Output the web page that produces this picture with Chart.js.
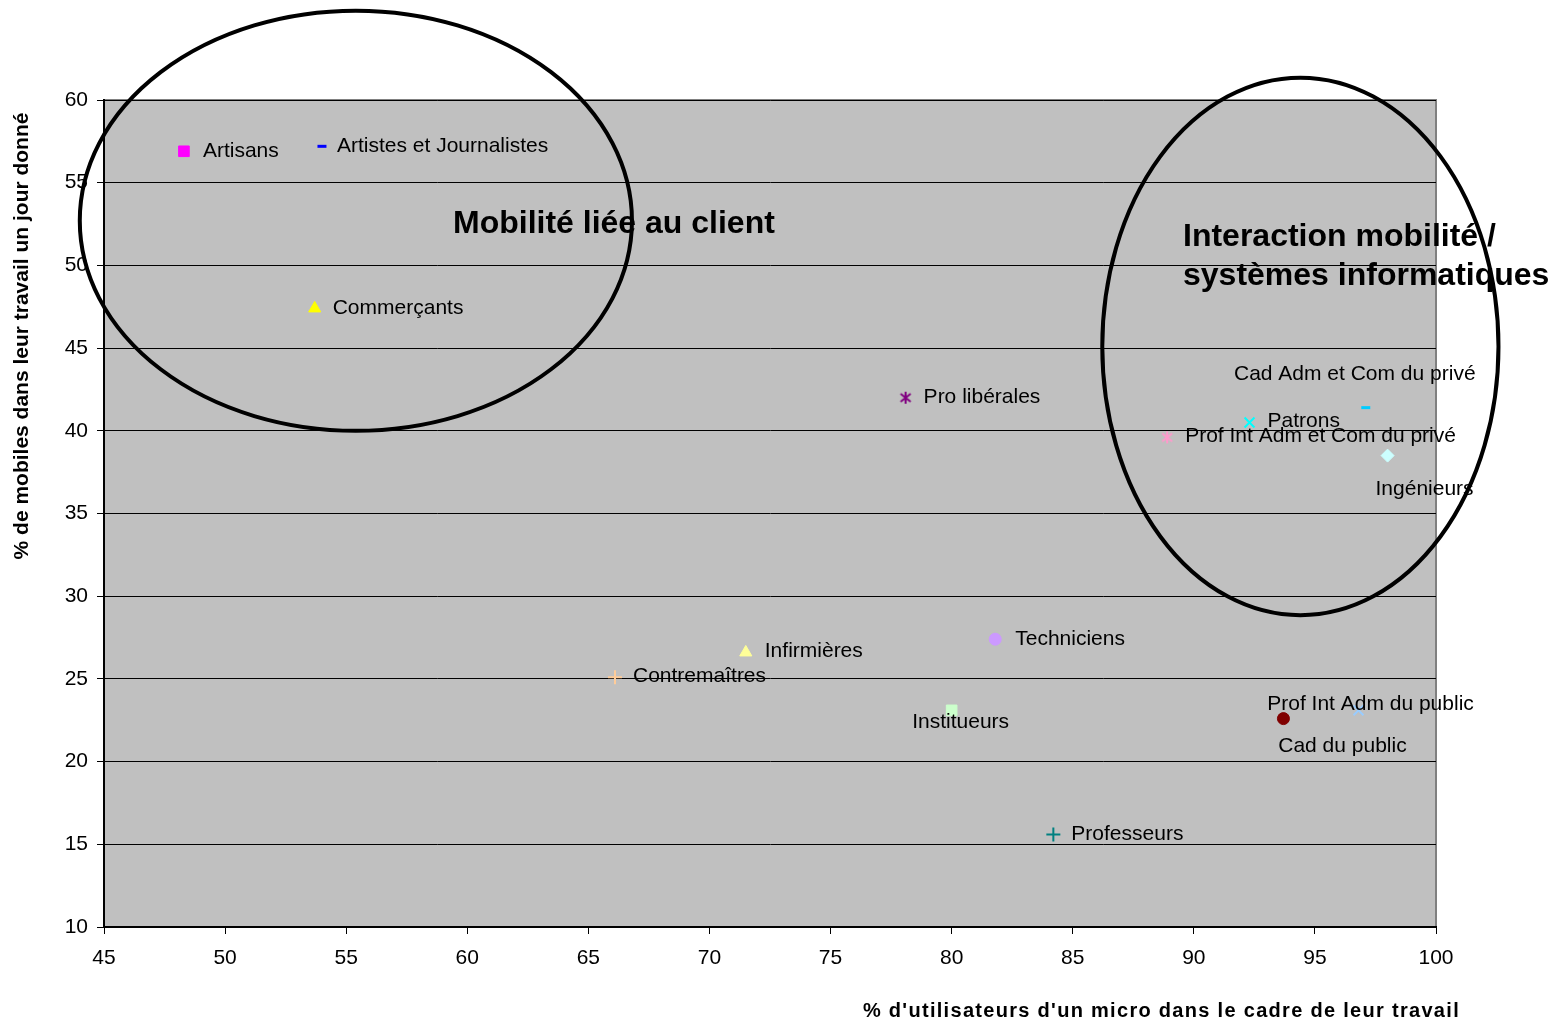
<!DOCTYPE html>
<html>
<head>
<meta charset="utf-8">
<script src="https://cdn.jsdelivr.net/npm/chart.js@4.4.1/dist/chart.umd.min.js"></script>
<style>
    html, body { margin: 0; padding: 0; background: #fff; }
    #wrap { width: 1557px; height: 1023px; }
</style>
</head>
<body>
<div id="wrap"><canvas id="mobChart"></canvas></div>
<script>
// Data
const categories = ['Artisans', 'Artistes et Journalistes', 'Commerçants', 'Pro libérales', 'Patrons',
    'Cad Adm et Com du privé', 'Prof Int Adm et Com du privé', 'Ingénieurs', 'Techniciens', 'Infirmières',
    'Contremaîtres', 'Institueurs', 'Cad du public', 'Prof Int Adm du public', 'Professeurs'];
const microUse = [48.3, 54.0, 53.7, 78.1, 92.3, 97.1, 88.9, 98.0, 81.8, 71.5, 66.1, 80.0, 93.7, 96.8, 84.2];
const mobility = [56.9, 57.2, 47.4, 42.0, 40.5, 41.4, 39.6, 38.5, 27.4, 26.6, 25.1, 23.1, 22.6, 23.1, 15.6];

// Marker look per series (Excel default scatter palette)
const markerColors = ['#ff00ff', '#0000ff', '#ffff00', '#800080', '#00ffff', '#00ccff', '#ff99cc', '#ccffff',
    '#cc99ff', '#ffff99', '#ffcc99', '#ccffcc', '#800000', '#99ccff', '#008080'];
const markerStyles = ['rect', 'line', 'triangle', 'asterisk', 'crossRot', 'line', 'asterisk', 'rectRot',
    'circle', 'triangle', 'cross', 'rect', 'circle', 'crossRot', 'cross'];

// Where each data label sits relative to its marker (px) and how it is anchored
const labelOffsets = [[19, 0], [15, 0], [18, 0], [18, -1], [18, -1], [-11, -33], [18, -1], [37, 34],
    [20, 0], [19, -1], [18, -1], [9, 12], [59, 28], [12, -6], [18, 0]];
const labelAlign = ['left', 'left', 'left', 'left', 'left', 'center', 'left', 'center',
    'left', 'left', 'left', 'center', 'center', 'center', 'left'];

const FONT = 'Liberation Sans, Arial, sans-serif';

// six-armed asterisk like the Excel marker
function asteriskMarker(color) {
    const c = document.createElement('canvas');
    c.width = 14; c.height = 14;
    const g = c.getContext('2d');
    g.strokeStyle = color;
    g.lineWidth = 2;
    g.beginPath();
    g.moveTo(7, 1); g.lineTo(7, 13);
    g.moveTo(2, 3); g.lineTo(12, 11);
    g.moveTo(12, 3); g.lineTo(2, 11);
    g.stroke();
    return c;
}

const datasets = categories.map((name, i) => {
    const style = markerStyles[i];
    const thin = style === 'line' || style.startsWith('cross');
    let radius = 6;
    if (style === 'rect') radius = 7.5;
    if (style === 'triangle') radius = 7;
    if (style === 'line') radius = 4.5;
    if (style === 'rectRot') radius = 6.5;
    if (style === 'cross' || style === 'crossRot') radius = 7;
    return {
        label: name,
        data: [{ x: microUse[i], y: mobility[i] }],
        pointStyle: style === 'asterisk' ? asteriskMarker(markerColors[i]) : style,
        backgroundColor: markerColors[i],
        borderColor: markerColors[i],
        borderWidth: style === 'line' ? 3 : (thin ? 2 : 1),
        pointRadius: radius
    };
});

const plotFrame = {
    id: 'plotFrame',
    beforeDraw(chart) {
        const { ctx, chartArea: a } = chart;
        ctx.save();
        ctx.fillStyle = '#c0c0c0';
        ctx.fillRect(a.left, a.top, a.right - a.left, a.bottom - a.top);
        ctx.strokeStyle = '#808080';
        ctx.lineWidth = 2;
        ctx.beginPath();
        ctx.moveTo(a.left, a.top);
        ctx.lineTo(a.right, a.top);
        ctx.lineTo(a.right, a.bottom);
        ctx.stroke();
        ctx.restore();
    }
};

const overlays = {
    id: 'overlays',
    afterDraw(chart) {
        const { ctx } = chart;
        const xs = chart.scales.x, ys = chart.scales.y;
        ctx.save();

        // point labels
        ctx.fillStyle = '#000';
        ctx.font = '21px ' + FONT;
        ctx.textBaseline = 'middle';
        categories.forEach((name, i) => {
            const px = xs.getPixelForValue(microUse[i]);
            const py = ys.getPixelForValue(mobility[i]);
            ctx.textAlign = labelAlign[i];
            ctx.fillText(name, px + labelOffsets[i][0], py + labelOffsets[i][1]);
        });

        // group ellipses (data coords: centre x, centre y, half width, half height)
        const groups = [[55.4, 52.7, 11.4, 12.7], [94.4, 45.1, 8.18, 16.25]];
        ctx.strokeStyle = '#000';
        ctx.lineWidth = 4;
        groups.forEach(g => {
            const cx = xs.getPixelForValue(g[0]);
            const cy = ys.getPixelForValue(g[1]);
            const rx = Math.abs(xs.getPixelForValue(g[0] + g[2]) - cx);
            const ry = Math.abs(ys.getPixelForValue(g[1] + g[3]) - cy);
            ctx.beginPath();
            ctx.ellipse(cx, cy, rx, ry, 0, 0, Math.PI * 2);
            ctx.stroke();
        });

        // group titles
        ctx.font = 'bold 32px ' + FONT;
        ctx.textAlign = 'left';
        ctx.fillText('Mobilité liée au client', 453, 224);
        ctx.fillText('Interaction mobilité /', 1183, 237);
        ctx.fillText('systèmes informatiques', 1183, 276);

        // x axis title, right aligned past the plot edge as in the original
        ctx.font = 'bold 20px ' + FONT;
        ctx.textAlign = 'right';
        ctx.letterSpacing = '1.3px';
        ctx.fillText("% d'utilisateurs d'un micro dans le cadre de leur travail", 1460, 1011);
        ctx.letterSpacing = '0px';

        // y axis title
        ctx.translate(22, 336);
        ctx.rotate(-Math.PI / 2);
        ctx.textAlign = 'center';
        ctx.font = 'bold 21px ' + FONT;
        ctx.fillText('% de mobiles dans leur travail un jour donné', 0, 0);
        ctx.restore();
    }
};

new Chart(document.getElementById('mobChart'), {
    type: 'scatter',
    data: { datasets },
    options: {
        responsive: true,
        maintainAspectRatio: false,
        animation: false,
        layout: { padding: { top: 100, right: 121, left: 0, bottom: 0 } },
        plugins: {
            legend: { display: false },
            tooltip: { enabled: false }
        },
        scales: {
            x: {
                type: 'linear',
                min: 45,
                max: 100,
                afterFit: s => { s.height = 96; },
                ticks: { stepSize: 5, color: '#000', font: { size: 21, family: FONT }, padding: 12 },
                grid: { drawOnChartArea: false, color: '#000', tickLength: 7 },
                border: { color: '#000', width: 2 }
            },
            y: {
                min: 10,
                max: 60,
                afterFit: s => { s.width = 104; },
                ticks: { stepSize: 5, color: '#000', font: { size: 21, family: FONT }, padding: 9 },
                grid: { color: '#000', lineWidth: 1, tickLength: 7 },
                border: { color: '#000', width: 2 }
            }
        }
    },
    plugins: [plotFrame, overlays]
});
</script>
</body>
</html>
